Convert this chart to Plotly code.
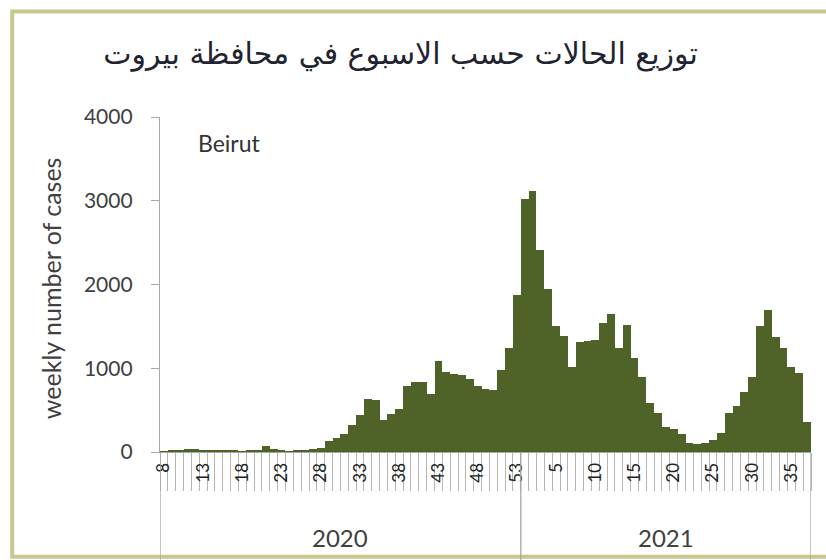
import plotly.graph_objects as go

# ---- data ----
weeks_2020 = list(range(8, 54))
weeks_2021 = list(range(1, 38))
cases_2020 = [10, 20, 25, 30, 30, 25, 20, 20, 15, 15, 10, 15, 25, 70, 30, 15, 10, 15, 20, 30,
              50, 130, 170, 220, 320, 440, 630, 620, 380, 450, 510, 790, 840, 830, 690, 1090,
              950, 930, 920, 870, 790, 750, 740, 980, 1240, 1870]
cases_2021 = [3020, 3120, 2410, 1950, 1510, 1380, 1020, 1310, 1320, 1340, 1540, 1650, 1240,
              1520, 1120, 900, 580, 460, 300, 270, 220, 110, 100, 110, 140, 230, 460, 550,
              720, 900, 1500, 1700, 1370, 1240, 1020, 940, 360]
years = ["2020", "2021"]
y_ticks = [0, 1000, 2000, 3000, 4000]
title_text = "توزيع الحالات حسب الاسبوع في محافظة بيروت"
series_name = "Beirut"
y_title = "weekly number of cases"

weeks = weeks_2020 + weeks_2021
cases = cases_2020 + cases_2021
n = len(weeks)
xpos = list(range(n))
label_idx = list(range(0, n, 5))

FONT = "Lato, 'Open Sans', sans-serif"
BAR = "#4F6228"
AX = "#A6A6A6"
TXT = "#404040"

fig = go.Figure(go.Bar(x=xpos, y=cases, marker=dict(color=BAR, line=dict(width=0)),
                       width=1.0, showlegend=False, hoverinfo="skip"))

# group boundaries
n20 = len(weeks_2020)
bounds = [-0.5, n20 - 0.5, n - 0.5]
shapes = []
for b in bounds:
    shapes.append(dict(type="line", xref="x", yref="paper", x0=b, x1=b, y0=0, y1=-0.33,
                       line=dict(color=AX, width=1.3)))
# outer frame
shapes.append(dict(type="rect", xref="paper", yref="paper", x0=-0.227, x1=1.04, y0=-0.313, y1=1.315,
                   line=dict(color="#C8C88E", width=4), fillcolor="rgba(0,0,0,0)", layer="below"))

annotations = [
    dict(text=series_name, xref="paper", yref="paper", x=0.055, y=0.922, xanchor="left",
         yanchor="middle", showarrow=False, font=dict(family=FONT, size=23, color="#333333")),
    dict(text=y_title, xref="paper", yref="paper", x=-0.167, y=0.49, textangle=-90,
         xanchor="center", yanchor="middle", showarrow=False,
         font=dict(family=FONT, size=25, color=TXT)),
    dict(text=years[0], xref="x", yref="paper", x=(bounds[0] + bounds[1]) / 2, y=-0.254,
         xanchor="center", yanchor="middle",
         showarrow=False, font=dict(family=FONT, size=24, color=TXT)),
    dict(text=years[1], xref="x", yref="paper", x=(bounds[1] + bounds[2]) / 2, y=-0.254,
         xanchor="center", yanchor="middle",
         showarrow=False, font=dict(family=FONT, size=24, color=TXT)),
]

fig.update_layout(
    width=826, height=560,
    margin=dict(l=160, r=15, t=117, b=108),
    paper_bgcolor="white", plot_bgcolor="white",
    bargap=0,
    title=dict(text=title_text, x=0.485, y=0.905, xref="container", yref="container",
               xanchor="center", yanchor="middle",
               font=dict(family="'DejaVu Sans', sans-serif", size=30, color="#1f2430")),
    shapes=shapes, annotations=annotations,
    xaxis=dict(range=[-0.5, n - 0.5], showgrid=False, zeroline=False,
               showline=True, linecolor=AX, linewidth=1.3,
               tickmode="array", tickvals=label_idx, ticktext=[str(weeks[i]) for i in label_idx],
               tickangle=-90, ticks="", ticklabelstandoff=3,
               tickfont=dict(family=FONT, size=17, color="#222222"),
               minor=dict(tickmode="linear", tick0=-0.5, dtick=1, ticks="outside",
                          ticklen=38, tickcolor="#B5B5B5", tickwidth=1, showgrid=False)),
    yaxis=dict(range=[0, 4000], tickvals=y_ticks, showgrid=False, zeroline=False,
               showline=True, linecolor=AX, linewidth=1.3,
               ticks="outside", ticklen=8, tickcolor=AX, ticklabelstandoff=14,
               tickfont=dict(family=FONT, size=21, color=TXT)),
)

fig.write_html("out.html", config={"displayModeBar": False},
               post_script="document.body.style.margin='0';")
